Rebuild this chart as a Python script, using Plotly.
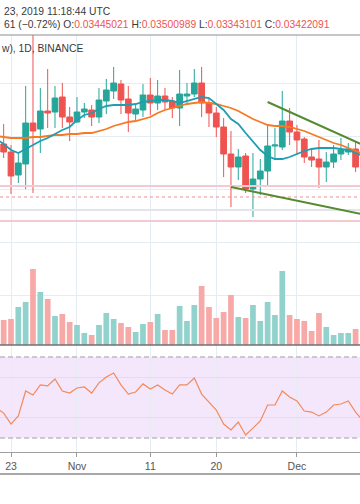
import pandas as pd
import plotly.graph_objects as go

# ---------------- data ----------------
candle_dates = pd.date_range("2019-10-22", "2019-12-09", freq="D")
line_dates = pd.date_range("2019-10-21", "2019-12-10", freq="D")

opens = [0.03484, 0.03468, 0.03422, 0.03444, 0.03526, 0.03514, 0.03550, 0.03548, 0.03578, 0.03538,
         0.03528, 0.03548, 0.03552, 0.03538, 0.03570, 0.03590, 0.03604, 0.03574, 0.03544, 0.03552,
         0.03582, 0.03566, 0.03580, 0.03570, 0.03556, 0.03580, 0.03584, 0.03606, 0.03566, 0.03546,
         0.03518, 0.03464, 0.03438, 0.03460, 0.03394, 0.03414, 0.03430, 0.03480, 0.03478, 0.03530,
         0.03508, 0.03494, 0.03458, 0.03454, 0.03438, 0.03448, 0.03464, 0.03468, 0.03474]
highs = [0.03524, 0.03482, 0.03464, 0.03600, 0.03900, 0.03596, 0.03634, 0.03600, 0.03606, 0.03558,
         0.03578, 0.03566, 0.03562, 0.03596, 0.03614, 0.03638, 0.03612, 0.03600, 0.03564, 0.03604,
         0.03616, 0.03612, 0.03596, 0.03578, 0.03632, 0.03606, 0.03634, 0.03638, 0.03576, 0.03558,
         0.03536, 0.03510, 0.03474, 0.03466, 0.03466, 0.03454, 0.03524, 0.03516, 0.03590, 0.03556,
         0.03522, 0.03498, 0.03476, 0.03492, 0.03468, 0.03482, 0.03496, 0.03486, 0.03490]
lows = [0.03456, 0.03384, 0.03406, 0.03394, 0.03386, 0.03466, 0.03516, 0.03516, 0.03516, 0.03490,
        0.03526, 0.03536, 0.03520, 0.03526, 0.03544, 0.03574, 0.03544, 0.03508, 0.03532, 0.03538,
        0.03542, 0.03552, 0.03552, 0.03536, 0.03520, 0.03562, 0.03578, 0.03538, 0.03518, 0.03498,
        0.03418, 0.03358, 0.03412, 0.03386, 0.03338, 0.03382, 0.03398, 0.03452, 0.03472, 0.03482,
        0.03462, 0.03446, 0.03438, 0.03396, 0.03408, 0.03436, 0.03452, 0.03462, 0.03428]
closes = [0.03468, 0.03420, 0.03446, 0.03526, 0.03510, 0.03550, 0.03546, 0.03576, 0.03538, 0.03528,
          0.03548, 0.03554, 0.03538, 0.03572, 0.03592, 0.03606, 0.03572, 0.03546, 0.03554, 0.03582,
          0.03566, 0.03580, 0.03568, 0.03556, 0.03584, 0.03584, 0.03606, 0.03566, 0.03546, 0.03518,
          0.03464, 0.03438, 0.03458, 0.03394, 0.03414, 0.03430, 0.03480, 0.03482, 0.03530, 0.03508,
          0.03492, 0.03458, 0.03452, 0.03438, 0.03448, 0.03464, 0.03472, 0.03474, 0.03438]
volumes_k = [25, 26, 38, 43, 76, 53, 46, 29, 31, 23,
             20, 12, 10, 20, 32, 26, 22, 18, 13, 21,
             23, 31, 15, 15, 39, 24, 40, 59, 38, 27,
             33, 50, 28, 27, 40, 24, 43, 30, 74, 30,
             26, 24, 14, 32, 18, 10, 12, 12, 16]

ema_fast = [0.03494, 0.03484, 0.03472, 0.03466, 0.03474, 0.03482, 0.03490, 0.03496, 0.03504, 0.03512,
            0.03518, 0.03532, 0.03542, 0.03546, 0.03554, 0.03560, 0.03562, 0.03562, 0.03562, 0.03564,
            0.03568, 0.03570, 0.03572, 0.03572, 0.03570, 0.03566, 0.03570, 0.03574, 0.03578, 0.03576,
            0.03564, 0.03552, 0.03534, 0.03524, 0.03506, 0.03488, 0.03472, 0.03460, 0.03454, 0.03454,
            0.03458, 0.03464, 0.03470, 0.03474, 0.03476, 0.03476, 0.03476, 0.03474, 0.03472, 0.03466,
            0.03460]
ema_slow = [0.03500, 0.03498, 0.03496, 0.03496, 0.03496, 0.03498, 0.03498, 0.03500, 0.03502, 0.03502,
            0.03504, 0.03504, 0.03506, 0.03506, 0.03510, 0.03514, 0.03520, 0.03524, 0.03528, 0.03530,
            0.03534, 0.03538, 0.03546, 0.03552, 0.03556, 0.03560, 0.03564, 0.03566, 0.03568, 0.03566,
            0.03564, 0.03560, 0.03556, 0.03550, 0.03542, 0.03534, 0.03528, 0.03522, 0.03520, 0.03520,
            0.03518, 0.03514, 0.03510, 0.03504, 0.03498, 0.03492, 0.03486, 0.03482, 0.03476, 0.03470,
            0.03464]
rsi = [44.8, 42.3, 36.9, 40.9, 53.2, 51.2, 56.2, 55.7, 59.1, 53.2,
       52.2, 54.7, 55.2, 52.2, 57.2, 60.1, 62.1, 56.2, 51.7, 52.7,
       56.7, 54.2, 56.2, 53.7, 51.7, 56.2, 56.2, 59.6, 51.7, 47.8,
       43.8, 36.9, 34.0, 37.9, 31.5, 34.9, 38.4, 46.3, 46.3, 53.2,
       50.2, 48.3, 43.3, 42.8, 40.9, 42.8, 46.3, 46.8, 48.3, 42.8,
       38.4]

tick_dates = ["2019-10-23", "2019-11-01", "2019-11-11", "2019-11-20", "2019-12-01"]
tick_labels = ["23", "Nov", "11", "20", "Dec"]

trend_upper_dates = ["2019-11-27", "2019-12-12"]
trend_upper_prices = [0.03568, 0.03469]
trend_lower_dates = ["2019-11-22", "2019-12-12"]
trend_lower_prices = [0.03398, 0.03337]

level_pink = [0.03400, 0.03330]
level_dotted = 0.03378
level_gray = 0.03352

header_time = "23, 2019 11:18:44 UTC"
header_change = "61 (\u22120.72%)"
header_ohlc = [("O", "0.03445021"), ("H", "0.03500989"), ("L", "0.03343101"), ("C", "0.03422091")]
header_symbol = "w), 1D, BINANCE"

# ---------------- style ----------------
UP, DOWN = "#26a69a", "#ef5350"
VOL_UP, VOL_DOWN = "#92d2cc", "#f7a9a7"
GRID = "#e6edf2"
FONT = "Liberation Sans, Arial, sans-serif"
H = 504.0

def py(px):
    return 1 - px / H

x_range = ["2019-10-21 12:00", "2019-12-09 14:24"]

fig = go.Figure()

fig.add_trace(go.Candlestick(
    x=candle_dates, open=opens, high=highs, low=lows, close=closes,
    xaxis="x", yaxis="y",
    increasing=dict(line=dict(color=UP, width=1), fillcolor=UP),
    decreasing=dict(line=dict(color=DOWN, width=1), fillcolor=DOWN),
    whiskerwidth=0, hoverinfo="skip",
))
fig.add_trace(go.Scatter(x=line_dates, y=ema_slow, mode="lines", xaxis="x", yaxis="y",
                         line=dict(color="#f57a22", width=1.8), hoverinfo="skip"))
fig.add_trace(go.Scatter(x=line_dates, y=ema_fast, mode="lines", xaxis="x", yaxis="y",
                         line=dict(color="#1f9db3", width=1.8), hoverinfo="skip"))

vol_colors = [VOL_UP if c >= o else VOL_DOWN for o, c in zip(opens, closes)]
fig.add_trace(go.Bar(x=candle_dates, y=volumes_k, xaxis="x", yaxis="y3",
                     marker=dict(color=vol_colors, line=dict(width=0)), hoverinfo="skip"))

fig.add_trace(go.Scatter(x=line_dates, y=rsi, mode="lines", xaxis="x2", yaxis="y2",
                         line=dict(color="#f28a5b", width=1.2), hoverinfo="skip"))

main_dom = [py(345), py(35)]
rsi_dom = [py(452), py(345)]

fig.update_layout(
    width=360, height=504,
    margin=dict(l=0, r=0, t=0, b=0),
    paper_bgcolor="white", plot_bgcolor="white",
    showlegend=False, hovermode=False,
    boxgap=0.22, boxgroupgap=0, bargap=0.22,
    xaxis=dict(domain=[0, 1], anchor="y", type="date", range=x_range,
               tickvals=tick_dates, showticklabels=False, ticks="",
               showgrid=True, gridcolor=GRID, gridwidth=1, zeroline=False,
               showline=False, rangeslider=dict(visible=False)),
    yaxis=dict(domain=main_dom, anchor="x", range=[0.03082, 0.03702],
               tick0=0.035, dtick=0.00106, showticklabels=False, ticks="",
               showgrid=True, gridcolor=GRID, gridwidth=1, zeroline=False),
    yaxis3=dict(overlaying="y", range=[0, 310], visible=False),
    xaxis2=dict(domain=[0, 1], anchor="y2", type="date", range=x_range, matches="x",
                tickvals=tick_dates, ticktext=tick_labels,
                ticks="outside", ticklen=4, tickcolor="#9a9a9a",
                tickfont=dict(family=FONT, size=10.5, color="#555555"),
                showgrid=True, gridcolor=GRID, gridwidth=1, zeroline=False,
                showline=True, linecolor="#a0a0a0", linewidth=1),
    yaxis2=dict(domain=rsi_dom, anchor="x2", range=[23.1, 75.9],
                tick0=0, dtick=20, showticklabels=False, ticks="",
                showgrid=True, gridcolor="#e2dced", zeroline=False),
)

shapes = []
# RSI band
shapes.append(dict(type="rect", xref="x2 domain", yref="y2", x0=0, x1=1, y0=30, y1=70,
                   fillcolor="#f4e7fc", line=dict(width=0), layer="below"))
for lvl in (30, 70):
    shapes.append(dict(type="line", xref="x2 domain", yref="y2", x0=0, x1=1, y0=lvl, y1=lvl,
                       line=dict(color="#bdb9c6", width=1.5, dash="5px,3px"), layer="above"))
# horizontal levels on price pane
for lvl in level_pink:
    shapes.append(dict(type="line", xref="x domain", yref="y", x0=0, x1=1, y0=lvl, y1=lvl,
                       line=dict(color="#f3cad1", width=2), layer="above"))
shapes.append(dict(type="line", xref="x domain", yref="y", x0=0, x1=1, y0=level_dotted, y1=level_dotted,
                   line=dict(color="#f08d8d", width=1, dash="dot"), layer="above"))
shapes.append(dict(type="line", xref="x domain", yref="y", x0=0, x1=1, y0=level_gray, y1=level_gray,
                   line=dict(color="#e3e5ea", width=2), layer="above"))
# trend lines
shapes.append(dict(type="line", xref="x", yref="y",
                   x0=trend_upper_dates[0], x1=trend_upper_dates[1],
                   y0=trend_upper_prices[0], y1=trend_upper_prices[1],
                   line=dict(color="#558b2f", width=2), layer="above"))
shapes.append(dict(type="line", xref="x", yref="y",
                   x0=trend_lower_dates[0], x1=trend_lower_dates[1],
                   y0=trend_lower_prices[0], y1=trend_lower_prices[1],
                   line=dict(color="#558b2f", width=2), layer="above"))
# separators
shapes.append(dict(type="line", xref="paper", yref="paper", x0=0, x1=1, y0=py(35), y1=py(35),
                   line=dict(color="#8c8c8c", width=1)))
shapes.append(dict(type="line", xref="paper", yref="paper", x0=0, x1=1, y0=py(345), y1=py(345),
                   line=dict(color="#707070", width=1.5)))
shapes.append(dict(type="line", xref="paper", yref="paper", x0=0, x1=1, y0=py(474), y1=py(474),
                   line=dict(color="#8a8a8a", width=1.5)))
fig.update_layout(shapes=shapes)

red_span = '<span style="color:#ef5350">{}</span>'
line2 = header_change + " " + " ".join(f"{k}:" + red_span.format(v) for k, v in header_ohlc)

annotations = [
    dict(text=header_time, x=2 / 360, y=py(11)),
    dict(text=line2, x=2 / 360, y=py(24.5)),
    dict(text=header_symbol, x=-1 / 360, y=py(49)),
]
for a in annotations:
    a.update(xref="paper", yref="paper", xanchor="left", yanchor="middle", showarrow=False,
             font=dict(family=FONT, size=10.3, color="#3a3a3a"))
fig.update_layout(annotations=annotations)

fig.write_html(
    "out.html",
    config={"displayModeBar": False, "staticPlot": True},
    post_script="document.body.style.margin='0';document.body.style.padding='0';"
                "document.body.style.overflow='hidden';",
)
